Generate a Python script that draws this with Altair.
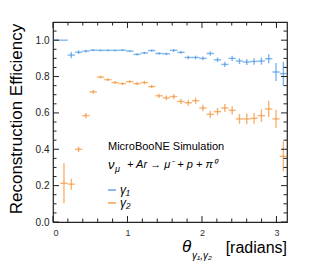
import math
import altair as alt
import pandas as pd

W, H = 234, 200
NB = 32
BW = math.pi / NB

gamma1_eff = [1.0, 1.0, 0.918, 0.934, 0.940, 0.945, 0.944, 0.944, 0.944, 0.945,
              0.940, 0.922, 0.930, 0.943, 0.927, 0.925, 0.944, 0.933, 0.905, 0.905,
              0.900, 0.927, 0.892, 0.867, 0.900, 0.885, 0.880, 0.883, 0.885, 0.898,
              0.825, 0.816]
gamma1_err = [0.0, 0.0, 0.017, 0.010, 0.008, 0.006, 0.005, 0.005, 0.005, 0.005,
              0.005, 0.006, 0.006, 0.006, 0.007, 0.007, 0.008, 0.008, 0.010, 0.010,
              0.010, 0.012, 0.013, 0.015, 0.015, 0.016, 0.017, 0.018, 0.020, 0.025,
              0.050, 0.065]
gamma2_eff = [None, 0.213, 0.208, 0.400, 0.585, 0.716, 0.797, 0.783, 0.767, 0.761,
              0.772, 0.761, 0.767, 0.745, 0.694, 0.683, 0.690, 0.663, 0.656, 0.667,
              0.627, 0.592, 0.607, 0.627, 0.614, 0.567, 0.567, 0.570, 0.585, 0.622,
              0.567, 0.361]
gamma2_err = [None, 0.110, 0.030, 0.015, 0.015, 0.010, 0.008, 0.008, 0.008, 0.008,
              0.008, 0.009, 0.010, 0.010, 0.012, 0.013, 0.014, 0.015, 0.016, 0.017,
              0.018, 0.020, 0.020, 0.022, 0.023, 0.027, 0.030, 0.030, 0.035, 0.045,
              0.050, 0.082]

x_major = [0, 1, 2, 3]
x_minor = [0.2, 0.4, 0.6, 0.8, 1.2, 1.4, 1.6, 1.8, 2.2, 2.4, 2.6, 2.8, 3.0]
y_major = [0.0, 0.2, 0.4, 0.6, 0.8, 1.0]
y_minor = [0.05, 0.1, 0.15, 0.25, 0.3, 0.35, 0.45, 0.5, 0.55, 0.65, 0.7, 0.75,
           0.85, 0.9, 0.95, 1.05]

BLUE = "#3b8fe3"
ORANGE = "#f28a26"
FONT = "Liberation Sans"

rows = []
for name, eff, err in [("g1", gamma1_eff, gamma1_err), ("g2", gamma2_eff, gamma2_err)]:
    for i, (v, e) in enumerate(zip(eff, err)):
        if v is None:
            continue
        c = (i + 0.5) * BW
        rows.append(dict(s=name, x=c, xlo=c - BW / 2, xhi=c + BW / 2,
                         y=v, ylo=v - e, yhi=v + e))
df = pd.DataFrame(rows)

xs = alt.Scale(domain=[0, math.pi], nice=False, zero=False)
ys = alt.Scale(domain=[0, 1.1], nice=False)
cs = alt.Scale(domain=["g1", "g2"], range=[BLUE, ORANGE])

xaxis = alt.Axis(values=x_major, format="d", title=None, ticks=False,
                 domain=False, grid=False, labelFontSize=9,
                 labelColor="#333", labelFont=FONT, labelPadding=6,
                 labelOverlap=False)
yaxis = alt.Axis(values=y_major, format=".1f", title=None, ticks=False,
                 domain=False, grid=False, labelFontSize=10,
                 labelColor="#222", labelFont=FONT, labelPadding=4,
                 labelOverlap=False)

base = alt.Chart(df)
hbar = base.mark_rule(strokeWidth=1.4, opacity=0.65).encode(
    x=alt.X("xlo:Q", scale=xs, axis=xaxis),
    x2="xhi:Q",
    y=alt.Y("y:Q", scale=ys, axis=yaxis),
    color=alt.Color("s:N", scale=cs, legend=None),
)
vbar = base.mark_rule(strokeWidth=1.4, opacity=0.65).encode(
    x=alt.X("x:Q", scale=xs, axis=xaxis), y=alt.Y("ylo:Q", scale=ys, axis=yaxis),
    y2="yhi:Q",
    color=alt.Color("s:N", scale=cs, legend=None),
)

def tickdf(vals):
    return pd.DataFrame({"v": vals})

tk = []
for vals, L in [(x_major, 6), (x_minor, 3.5)]:
    c = alt.Chart(tickdf(vals))
    tk.append(c.mark_rule(color="#222", strokeWidth=1).encode(
        x=alt.X("v:Q", scale=xs, axis=xaxis), y=alt.value(H), y2=alt.value(H - L)))
    tk.append(c.mark_rule(color="#222", strokeWidth=1).encode(
        x=alt.X("v:Q", scale=xs, axis=xaxis), y=alt.value(0), y2=alt.value(L)))
for vals, L in [(y_major, 6), (y_minor, 3.5)]:
    c = alt.Chart(tickdf(vals))
    tk.append(c.mark_rule(color="#222", strokeWidth=1).encode(
        y=alt.Y("v:Q", scale=ys, axis=yaxis), x=alt.value(0), x2=alt.value(L)))
    tk.append(c.mark_rule(color="#222", strokeWidth=1).encode(
        y=alt.Y("v:Q", scale=ys, axis=yaxis), x=alt.value(W), x2=alt.value(W - L)))

one = pd.DataFrame({"a": [0]})

def txt(s, x, y, size, align="left", italic=False, angle=0, color="black"):
    kw = dict(align=align, baseline="middle", fontSize=size, font=FONT, color=color)
    if italic:
        kw["fontStyle"] = "italic"
    if angle:
        kw["angle"] = angle
    return alt.Chart(one).mark_text(**kw).encode(
        x=alt.value(x), y=alt.value(y), text=alt.value(s))

texts = [
    txt("Reconstruction Efficiency", -36, 97, 17, align="center", angle=270),
    txt("[radians]", W, 226, 16, align="right"),
    txt("θ", 129, 225, 17, italic=True),
    txt("γ₁,γ₂", 139, 234, 10, italic=True),
    txt("MicroBooNE Simulation", 55, 125, 11),
    txt("ν", 55, 143, 13, italic=True),
    txt("μ", 62, 147, 9, italic=True),
    txt("+ Ar → μ⁻ + p + π⁰", 74, 143, 11, italic=True),
    txt("γ₁", 67, 168, 12, italic=True),
    txt("γ₂", 67, 181, 12, italic=True),
]
leg = [
    alt.Chart(one).mark_rule(color=BLUE, strokeWidth=1.5, opacity=0.8).encode(
        x=alt.value(55), x2=alt.value(63), y=alt.value(168)),
    alt.Chart(one).mark_rule(color=ORANGE, strokeWidth=1.5, opacity=0.8).encode(
        x=alt.value(55), x2=alt.value(63), y=alt.value(181)),
]

chart = alt.layer(hbar, vbar, *tk, *leg, *texts).properties(
    width=W, height=H,
    autosize=alt.AutoSizeParams(type="none"),
    padding={"left": 45, "top": 14, "right": 18, "bottom": 40},
).configure_view(stroke="#222", strokeWidth=1.2).resolve_scale(color="shared")

chart.save("out.html", embed_options={"renderer": "svg", "actions": False})
